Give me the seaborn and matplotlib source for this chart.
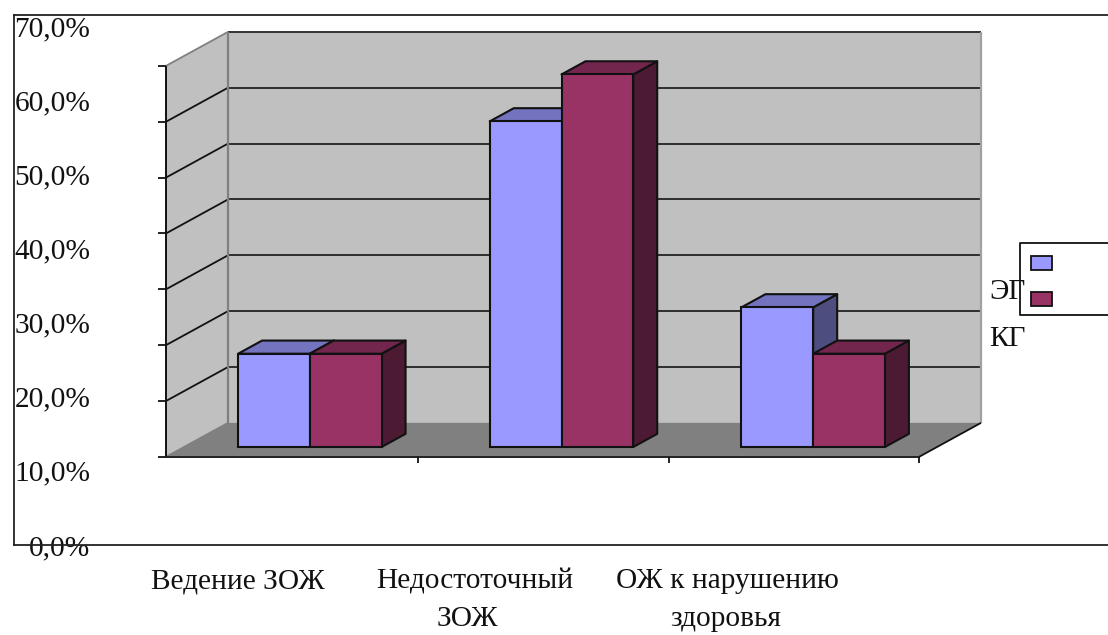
import matplotlib
matplotlib.use("Agg")
import matplotlib.pyplot as plt
from matplotlib.colors import to_rgb
from matplotlib.lines import Line2D
from matplotlib.patches import Polygon, Rectangle
import pandas as pd
import seaborn as sns

# Survey results, percent of respondents per group
CATEGORIES = ["Ведение ЗОЖ", "Недостоточный ЗОЖ", "ОЖ к нарушению здоровья"]
CAPTION_FIRST = ["Ведение ЗОЖ", "Недостоточный", "ОЖ к нарушению"]
CAPTION_SECOND = ["", "ЗОЖ", "здоровья"]
GROUP_NAMES = ["ЭГ", "КГ"]
EG_VALUES = [16.7, 58.3, 25.0]
KG_VALUES = [16.7, 66.7, 16.7]
AXIS_TICKS = [0, 10, 20, 30, 40, 50, 60, 70]
AXIS_LABELS = ["0,0%", "10,0%", "20,0%", "30,0%", "40,0%", "50,0%", "60,0%", "70,0%"]

W, H = 1108, 635
BLUE, RED = "#9999FF", "#993366"
WALL, FLOOR, EDGE = "#C0C0C0", "#808080", "#111111"
SERIF = "Liberation Serif"

sns.set_theme(style="white", rc={"font.family": SERIF})


def rect_px(left, top, right, bottom):
    """Axes rectangle in figure fractions from pixel edges (y counted from the top)."""
    return [left / W, 1 - bottom / H, (right - left) / W, (bottom - top) / H]


def shade(color, factor):
    return tuple(c * factor for c in to_rgb(color))


fig = plt.figure(figsize=(W / 100, H / 100), dpi=100, facecolor="white")

# Outer frame carries the value labels
frame = fig.add_axes(rect_px(14, 15, W + 2, 545), facecolor="none", zorder=1)
frame.set_xlim(0, 1)
px_per_unit = (547 - 26) / 70
frame.set_ylim(2 / px_per_unit, 70 + 11 / px_per_unit)
frame.set_yticks(AXIS_TICKS, AXIS_LABELS)
frame.set_xticks([])
frame.tick_params(axis="y", length=0, pad=-55, labelsize=21.2, labelcolor="#111111")
for lab in frame.get_yticklabels():
    lab.set_fontfamily(SERIF)
frame.spines["right"].set_visible(False)
for side in ("left", "top", "bottom"):
    frame.spines[side].set_color("#222222")
    frame.spines[side].set_linewidth(1.3)

# Plot area: the axes coincide with the front plane of the bars
ax = fig.add_axes(rect_px(184, 56, 939, 447), facecolor="none", zorder=2)
df = pd.DataFrame({
    "category": CATEGORIES * 2,
    "group": [GROUP_NAMES[0]] * 3 + [GROUP_NAMES[1]] * 3,
    "value": EG_VALUES + KG_VALUES,
})
sns.barplot(data=df, x="category", y="value", hue="group", ax=ax,
            palette=[BLUE, RED], saturation=1, width=0.57, gap=0, legend=False,
            edgecolor=EDGE, linewidth=1.5)
ax.set_xlim(-0.5, 2.5)
ax.set_ylim(0, 70)
ax.axis("off")

CAT_PX = 755 / 3
VAL_PX = 391 / 70
DEPTH_X, DEPTH_Y = 62, 34      # full oblique depth, pixels
BAR_PLANE = 18 / 62            # depth of the bars' front faces
BAR_BACK = BAR_PLANE + 24 / 62


def proj(x, y, d):
    """Oblique projection of a point at depth d (0 front of the floor, 1 back wall)."""
    return (x + (d - BAR_PLANE) * DEPTH_X / CAT_PX,
            y + (d - BAR_PLANE) * DEPTH_Y / VAL_PX)


def face(points, color, z, edge=None, lw=0.0):
    ax.add_patch(Polygon(points, closed=True, facecolor=color, edgecolor=edge or "none",
                         linewidth=lw, zorder=z, clip_on=False, joinstyle="round"))


def segment(a, b, color, lw, z):
    ax.add_line(Line2D([a[0], b[0]], [a[1], b[1]], color=color, lw=lw, zorder=z,
                       clip_on=False, solid_capstyle="butt"))


LEFT, RIGHT = -0.5, 2.5 - 2 / CAT_PX
TOP = AXIS_TICKS[-1]

# Walls and floor
face([proj(LEFT, 0, 1), proj(RIGHT, 0, 1), proj(RIGHT, TOP, 1), proj(LEFT, TOP, 1)], WALL, 1)
face([proj(LEFT, 0, 0), proj(LEFT, 0, 1), proj(LEFT, TOP, 1), proj(LEFT, TOP, 0)], WALL, 1)
face([proj(LEFT, 0, 0), proj(RIGHT, 0, 0), proj(RIGHT, 0, 1), proj(LEFT, 0, 1)], FLOOR, 1.1)

# Gridlines wrap from the side wall onto the back wall
for tick in AXIS_TICKS[1:-1]:
    segment(proj(LEFT, tick, 0), proj(LEFT, tick, 1), "#111111", 1.3, 1.5)
    segment(proj(LEFT, tick, 1), proj(RIGHT, tick, 1), "#222222", 1.3, 1.5)
segment(proj(LEFT, TOP, 1), proj(RIGHT, TOP, 1), "#333333", 1.4, 1.5)
segment(proj(LEFT, TOP, 0), proj(LEFT, TOP, 1), "#808080", 1.3, 1.5)
segment(proj(LEFT, 0, 1), proj(LEFT, TOP, 1), "#808080", 1.6, 1.6)
segment(proj(RIGHT, 0, 1), proj(RIGHT, TOP, 1), "#A0A0A0", 1.6, 1.6)
segment(proj(LEFT, 0, 0), proj(LEFT, 0, 1), "#808080", 1.3, 1.6)

# Axis lines and tick marks on the front plane
segment(proj(LEFT, 0, 0), proj(LEFT, TOP, 0), "#111111", 1.4, 1.7)
segment(proj(LEFT, 0, 0), proj(RIGHT, 0, 0), "#222222", 1.4, 1.7)
segment(proj(RIGHT, 0, 0), proj(RIGHT, 0, 1), "#111111", 1.3, 1.7)
tick_dx, tick_dy = 8 / CAT_PX, 6 / VAL_PX
for tick in AXIS_TICKS:
    x0, y0 = proj(LEFT, tick, 0)
    segment((x0 - tick_dx, y0), (x0, y0), "#111111", 1.3, 1.7)
for i in range(1, 4):
    x0, y0 = proj(LEFT + i, 0, 0)
    x0 = min(x0, proj(RIGHT, 0, 0)[0])
    segment((x0, y0), (x0, y0 - tick_dy), "#111111", 1.3, 1.7)

# Extrude each bar: side and top faces come from the bar's own geometry
for s, (container, color) in enumerate(zip(ax.containers, [BLUE, RED])):
    for i, bar in enumerate(container):
        x0, x1, top = bar.get_x(), bar.get_x() + bar.get_width(), bar.get_height()
        base = 3 + i * 10 + s * 3
        face([(x1, 0), (x1, top), proj(x1, top, BAR_BACK), proj(x1, 0, BAR_BACK)],
             shade(color, 0.5), base, EDGE, 1.5)
        face([(x0, top), (x1, top), proj(x1, top, BAR_BACK), proj(x0, top, BAR_BACK)],
             shade(color, 0.75), base + 0.5, EDGE, 1.5)
        bar.set_zorder(base + 1)
        bar.set_clip_on(False)

# Category captions under the frame
TEXT_PT = 21.2
for lines, centres, y in zip([CAPTION_FIRST, CAPTION_SECOND],
                             [[238, 475, 727], [238, 467, 726]], [581, 619]):
    for line, cx in zip(lines, centres):
        if line:
            fig.text(cx / W, 1 - y / H, line, ha="center", va="center", family=SERIF,
                     fontsize=TEXT_PT, color="#111111", zorder=5)

# Legend box, open towards the right edge
fig.add_artist(Line2D([W / W, 1020 / W, 1020 / W, W / W],
                      [1 - 243 / H, 1 - 243 / H, 1 - 315 / H, 1 - 315 / H],
                      color="#111111", lw=1.3, zorder=6))
for name, color, sy, ty in zip(GROUP_NAMES, [BLUE, RED], [256, 292], [292, 339]):
    fig.add_artist(Rectangle((1031 / W, 1 - (sy + 14) / H), 21 / W, 14 / H, facecolor=color,
                             edgecolor=EDGE, linewidth=1.3, transform=fig.transFigure, zorder=6))
    fig.text(989 / W, 1 - ty / H, name, ha="left", va="center", family=SERIF,
             fontsize=TEXT_PT, color="#111111", zorder=7)

fig.savefig("out.png", dpi=100)
